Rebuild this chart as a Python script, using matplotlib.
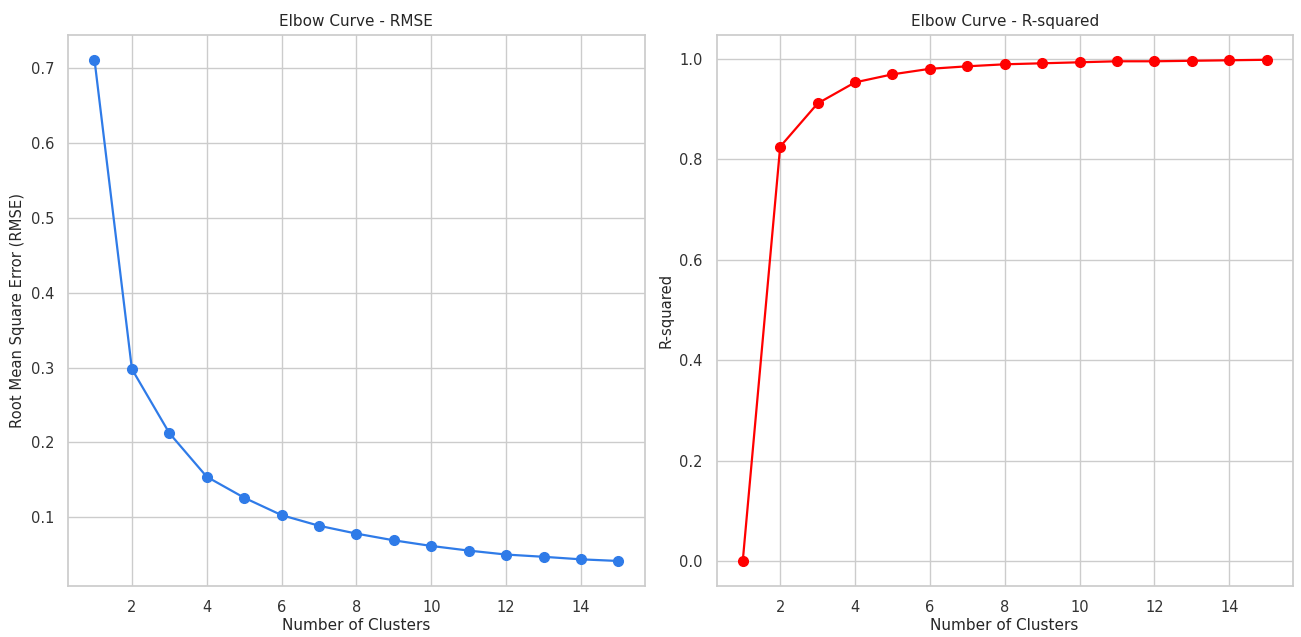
import matplotlib
matplotlib.use("Agg")
import matplotlib.pyplot as plt
import seaborn as sns

clusters = list(range(1, 16))
rmse = [0.7116, 0.298, 0.2124, 0.154, 0.126, 0.1027, 0.0885, 0.078, 0.069,
        0.0615, 0.0553, 0.050, 0.047, 0.0436, 0.0414]
r_squared = [0.0, 0.825, 0.911, 0.953, 0.969, 0.980, 0.985, 0.989, 0.991,
             0.993, 0.995, 0.995, 0.996, 0.997, 0.998]

sns.set_theme(style="whitegrid")
plt.rcParams['font.family'] = ['DejaVu Sans']

fig, (ax1, ax2) = plt.subplots(1, 2, figsize=(13.01, 6.37), dpi=100)
fig.subplots_adjust(left=0.0525, right=0.9937, top=0.9455, bottom=0.080, wspace=0.125)

ax1.plot(clusters, rmse, marker='o', color='#2f7be8', linewidth=1.6, markersize=7)
ax1.set_title('Elbow Curve - RMSE', fontsize=11)
ax1.set_xlabel('Number of Clusters', fontsize=11, labelpad=2)
ax1.set_ylabel('Root Mean Square Error (RMSE)', fontsize=10.6)

ax2.plot(clusters, r_squared, marker='o', color='red', linewidth=1.6, markersize=7)
ax2.set_title('Elbow Curve - R-squared', fontsize=11)
ax2.set_xlabel('Number of Clusters', fontsize=11, labelpad=2)
ax2.set_ylabel('R-squared', fontsize=10.6)

for ax in (ax1, ax2):
    ax.tick_params(labelsize=10.5, colors='#333333', pad=4)

fig.savefig('out.png', dpi=100)
